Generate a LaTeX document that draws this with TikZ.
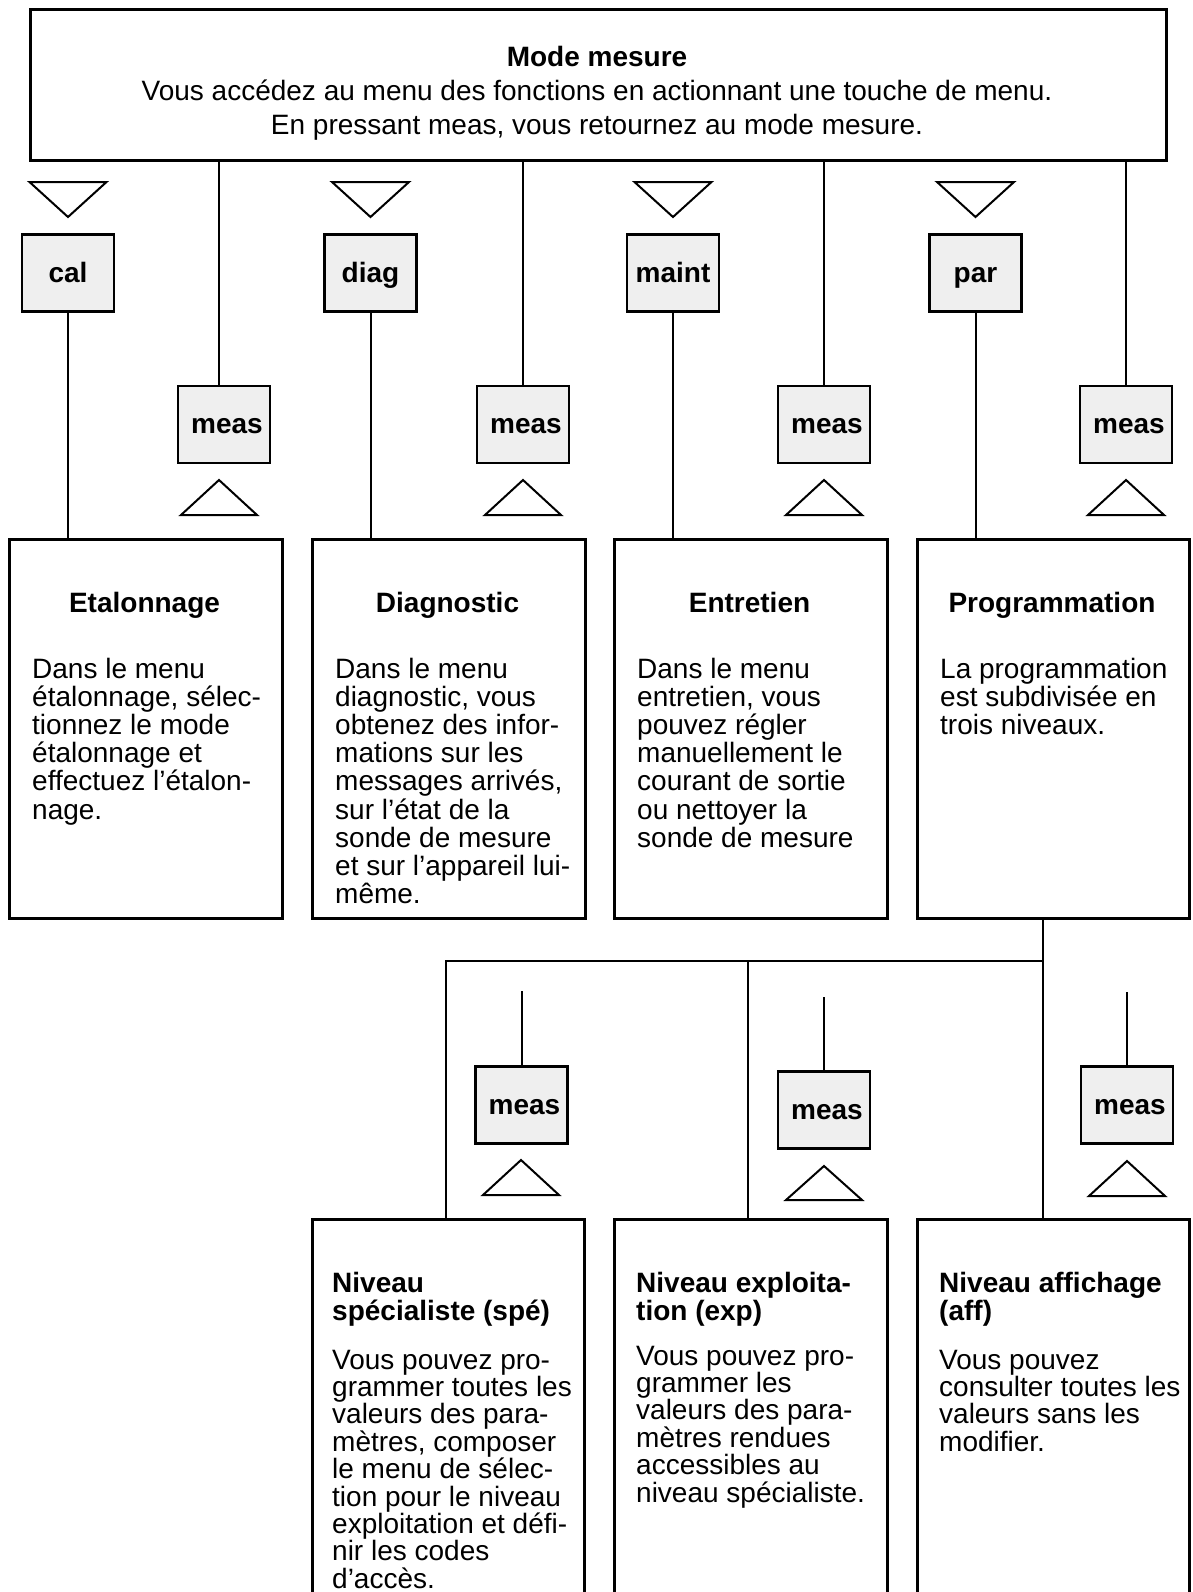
\documentclass[tikz,border=0pt]{standalone}
\usepackage{fontspec}
\setmainfont{Liberation Sans}
\definecolor{keyfill}{HTML}{EFEFEF}
\newcommand\myln[1]{\hbox{#1}}
\newcommand\mycl[1]{\hbox to 1100pt{\hfil#1\hfil}}
\newcommand\blk[2]{\vtop{\baselineskip=#1pt\lineskiplimit=-100pt\lineskip=0pt\relax#2}}
\begin{document}
\begin{tikzpicture}[x=1pt,y=-1pt,
  frame/.style={draw,line width=3pt,inner sep=0pt,anchor=north west},
  key/.style={draw,line width=2.8pt,fill=keyfill,inner sep=0pt,minimum width=92pt,minimum height=77pt,text height=20pt,text depth=2pt,font=\bfseries\fontsize{28}{28}\selectfont},
  link/.style={line width=2pt},
  tri/.style={line width=2pt,line join=miter},
  body/.style={inner sep=0pt,anchor=base west,font=\fontsize{28}{28}\selectfont},
  head/.style={inner sep=0pt,anchor=base,font=\bfseries\fontsize{28}{28}\selectfont},
  headl/.style={inner sep=0pt,anchor=base west,font=\bfseries\fontsize{28}{28}\selectfont}]
\path[use as bounding box,fill=white] (0,0) rectangle (1192,1592);
\clip (0,0) rectangle (1192,1592);

% top box
\node[frame,minimum width=1136pt,minimum height=151pt] (mode) at (29,8) {};
\node[inner sep=0pt,anchor=base,font=\fontsize{28}{28}\selectfont] (modetxt) at (597,67)
  {\blk{34}{\mycl{\bfseries Mode mesure}\mycl{Vous accédez au menu des fonctions en actionnant une touche de menu.}\mycl{En pressant meas, vous retournez au mode mesure.}}};

% menu keys
\node[key] (cal) at (68,273) {cal};
\node[key] (diag) at (370.5,273) {diag};
\node[key] (maint) at (673,273) {maint};
\node[key] (par) at (975.5,273) {par};

% meas keys row 1
\node[key] (m1) at (224,424.5) {\hspace*{6pt}meas};
\node[key] (m2) at (523,424.5) {\hspace*{6pt}meas};
\node[key] (m3) at (824,424.5) {\hspace*{6pt}meas};
\node[key] (m4) at (1126,424.5) {\hspace*{6pt}meas};

% big boxes row 1
\node[frame,minimum width=273pt,minimum height=379pt] (etal) at (8,538) {};
\node[frame,minimum width=273pt,minimum height=379pt] (diagb) at (311,538) {};
\node[frame,minimum width=273pt,minimum height=379pt] (entr) at (613,538) {};
\node[frame,minimum width=272pt,minimum height=379pt] (prog) at (916,538) {};

% connectors row 1
\draw[link] (cal.south) -- (cal.south |- etal.north);
\draw[link] (diag.south) -- (diag.south |- diagb.north);
\draw[link] (maint.south) -- (maint.south |- entr.north);
\draw[link] (par.south) -- (par.south |- prog.north);
\draw[link] (mode.south -| 219,0) -- (m1.north -| 219,0);
\draw[link] (mode.south -| m2.north) -- (m2.north);
\draw[link] (mode.south -| m3.north) -- (m3.north);
\draw[link] (mode.south -| m4.north) -- (m4.north);

% triangles row 1
\draw[tri] (29.5,182) -- (106.5,182) -- (68,217) -- cycle;
\draw[tri] (332,182) -- (409,182) -- (370.5,217) -- cycle;
\draw[tri] (634.5,182) -- (711.5,182) -- (673,217) -- cycle;
\draw[tri] (937,182) -- (1014,182) -- (975.5,217) -- cycle;
\draw[tri] (181,515) -- (257,515) -- (219,480) -- cycle;
\draw[tri] (485,515) -- (561,515) -- (523,480) -- cycle;
\draw[tri] (786,515) -- (862,515) -- (824,480) -- cycle;
\draw[tri] (1088,515) -- (1164,515) -- (1126,480) -- cycle;

% texts row 1
\node[head] (hetal) at (144.5,612) {Etalonnage};
\node[head] (hdiag) at (447.5,612) {Diagnostic};
\node[head] (hentr) at (749.5,612) {Entretien};
\node[head] (hprog) at (1052,612) {Programmation};
\node[body] (betal) at (32,678) {\blk{28.2}{\myln{Dans le menu}\myln{étalonnage, sélec-}\myln{tionnez le mode}\myln{étalonnage et}\myln{effectuez l’étalon-}\myln{nage.}}};
\node[body] (bdiag) at (335,678) {\blk{28.2}{\myln{Dans le menu}\myln{diagnostic, vous}\myln{obtenez des infor-}\myln{mations sur les}\myln{messages arrivés,}\myln{sur l’état de la}\myln{sonde de mesure}\myln{et sur l’appareil lui-}\myln{même.}}};
\node[body] (bentr) at (637,678) {\blk{28.2}{\myln{Dans le menu}\myln{entretien, vous}\myln{pouvez régler}\myln{manuellement le}\myln{courant de sortie}\myln{ou nettoyer la}\myln{sonde de mesure}}};
\node[body] (bprog) at (940,678) {\blk{28.2}{\myln{La programmation}\myln{est subdivisée en}\myln{trois niveaux.}}};

% row 2
\coordinate (split) at (1043,961);
\node[frame,minimum width=272pt,minimum height=420pt] (spe) at (311,1218) {};
\node[frame,minimum width=273pt,minimum height=420pt] (expb) at (613,1218) {};
\node[frame,minimum width=272pt,minimum height=420pt] (aff) at (916,1218) {};
\draw[link] (prog.south -| split) -- (aff.north -| split);
\draw[link] (spe.north -| 446,0) |- (split);
\draw[link] (expb.north -| 748,0) -- (748,0 |- split);

\node[key] (s1) at (521.5,1105) {\hspace*{6pt}meas};
\node[key] (s2) at (824,1110) {\hspace*{6pt}meas};
\node[key] (s3) at (1127,1105) {\hspace*{6pt}meas};
\coordinate (t1) at (521.5,991);
\coordinate (t2) at (824,997);
\coordinate (t3) at (1127,992);
\draw[link] (t1) -- (s1.north);
\draw[link] (t2) -- (s2.north);
\draw[link] (t3) -- (s3.north);
\draw[tri] (483,1195) -- (559,1195) -- (521,1160) -- cycle;
\draw[tri] (786,1200) -- (862,1200) -- (824,1166) -- cycle;
\draw[tri] (1089,1196) -- (1165,1196) -- (1127,1161) -- cycle;

\node[headl] (hspe) at (332,1292) {\blk{28}{\myln{Niveau}\myln{spécialiste (spé)}}};
\node[headl] (hexp) at (636,1292) {\blk{28}{\myln{Niveau exploita-}\myln{tion (exp)}}};
\node[headl] (haff) at (939,1292) {\blk{28}{\myln{Niveau affichage}\myln{(aff)}}};
\node[body] (bspe) at (332,1369) {\blk{27.4}{\myln{Vous pouvez pro-}\myln{grammer toutes les}\myln{valeurs des para-}\myln{mètres, composer}\myln{le menu de sélec-}\myln{tion pour le niveau}\myln{exploitation et défi-}\myln{nir les codes}\myln{d’accès.}}};
\node[body] (bexp) at (636,1365) {\blk{27.4}{\myln{Vous pouvez pro-}\myln{grammer les}\myln{valeurs des para-}\myln{mètres rendues}\myln{accessibles au}\myln{niveau spécialiste.}}};
\node[body] (baff) at (939,1369) {\blk{27.4}{\myln{Vous pouvez}\myln{consulter toutes les}\myln{valeurs sans les}\myln{modifier.}}};
\end{tikzpicture}
\end{document}
